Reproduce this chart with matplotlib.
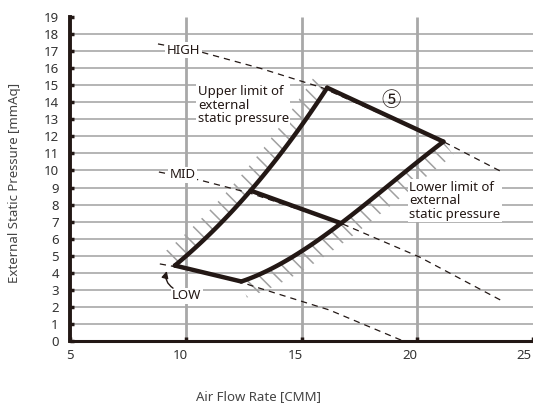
import numpy as np
import matplotlib
matplotlib.use("Agg")
import matplotlib.pyplot as plt
from matplotlib.patches import Polygon
from matplotlib.transforms import ScaledTranslation

plt.rcParams['font.family'] = ['Noto Sans', 'DejaVu Sans']
plt.rcParams['hatch.linewidth'] = 1.1
plt.rcParams['hatch.color'] = '#a0a0a0'

# ---- data ----
x_ticks = [5, 10, 15, 20, 25]
y_ticks = list(range(0, 20))
x_grid = [10, 15, 20]
y_grid = list(range(1, 19))

# upper limit curve (left boundary), from LOW point up to HIGH point
upper_x = [9.53, 10.53, 11.68, 12.80, 13.69, 14.41, 15.13, 15.70, 16.11]
upper_y = [4.36, 5.73, 7.20, 8.66, 10.22, 11.60, 12.96, 14.13, 14.72]
# lower limit curve (right boundary)
lower_x = [12.40, 13.55, 14.99, 16.71, 18.15, 19.58, 21.13]
lower_y = [3.48, 4.16, 5.24, 6.90, 8.46, 10.03, 11.69]
# MID operating line joins the two curves at these air flows
mid_join_x = [12.80, 16.71]

# fan curves (dashed)
high_x = [8.80, 10.65, 13.20, 15.90, 16.11, 21.13, 23.75]
high_y = [17.42, 16.95, 16.00, 14.85, 14.72, 11.69, 9.85]
mid_x = [8.84, 10.60, 12.80, 16.71, 20.09, 23.75]
mid_y = [9.91, 9.44, 8.66, 6.90, 4.93, 2.29]
low_x = [8.88, 9.53, 12.40, 12.76, 16.20, 19.50]
low_y = [4.52, 4.36, 3.48, 3.28, 1.82, -0.06]

W, H = 533, 405
fig = plt.figure(figsize=(W / 100, H / 100), dpi=100)
ax = fig.add_axes([70 / W, 1 - 341 / H, (533 - 70) / W, (341 - 17) / H])
ax.set_xlim(5, 25)
ax.set_ylim(0, 19)

grid_c = '#b4b4b4'
line_c = '#231815'

ax.hlines(y_grid, 5, 25, colors=grid_c, lw=1.4, zorder=1)
ax.vlines(x_grid, 0, 19, colors='#a8a8a8', lw=2.0, zorder=1)

def smooth(xs, ys):
    c = np.polyfit(xs, ys, 3)
    xx = np.linspace(xs[0], xs[-1], 80)
    return xx, np.polyval(c, xx), c

ux, uy, uc = smooth(upper_x, upper_y)
lx, ly, lc = smooth(lower_x, lower_y)

# hatched bands along the limit curves (offset in display space)
fig.canvas.draw()
def band(xs, ys, dist, side):
    pts = ax.transData.transform(np.column_stack([xs, ys]))
    d = np.gradient(pts, axis=0)
    d /= np.linalg.norm(d, axis=1)[:, None]
    if side == 'left':
        n = np.column_stack([-d[:, 1], d[:, 0]])
    else:
        n = np.column_stack([d[:, 1], -d[:, 0]])
    outer = pts + n * dist
    poly = np.vstack([pts, outer[::-1]])
    return ax.transData.inverted().transform(poly)

for xs, ys, side in [(ux, uy, 'left'), (lx, ly, 'right')]:
    p = Polygon(band(xs, ys, 17, side), closed=True, facecolor='none',
                edgecolor='#a0a0a0', lw=0, hatch='\\\\', zorder=2)
    ax.add_patch(p)

# dashed fan curves
for xs, ys in [(high_x, high_y), (mid_x, mid_y), (low_x, low_y)]:
    ax.plot(xs, ys, color='#231815', lw=0.9, ls=(0, (5, 4)), zorder=3)

# operating range polygon
lw = 3.2
kw = dict(color=line_c, lw=lw, zorder=5, solid_capstyle='round',
          solid_joinstyle='round')
ax.plot(ux, uy, **kw)
ax.plot(lx, ly, **kw)
ax.plot([ux[0], lx[0]], [uy[0], ly[0]], **kw)
ax.plot([ux[-1], lx[-1]], [uy[-1], ly[-1]], **kw)
ax.plot(mid_join_x, [np.polyval(uc, mid_join_x[0]), np.polyval(lc, mid_join_x[1])], **kw)

txt_c = '#231815'
bb = dict(facecolor='white', edgecolor='none', pad=1.0)
fs = 9.5
ax.text(9.9, 17.05, 'HIGH', fontsize=fs, color=txt_c, ha='center', va='center',
        bbox=bb, zorder=4)
ax.text(9.85, 9.75, 'MID', fontsize=fs, color=txt_c, ha='center', va='center',
        bbox=bb, zorder=4)
ax.text(10.05, 2.65, 'LOW', fontsize=fs, color=txt_c, ha='center', va='center',
        bbox=bb, zorder=4)
ax.annotate('', xy=(9.18, 4.1), xytext=(9.45, 3.1),
            arrowprops=dict(arrowstyle='-|>,head_length=0.4,head_width=0.2',
                            color=txt_c, lw=1.0, shrinkA=0, shrinkB=0,
                            connectionstyle='arc3,rad=-0.35'),
            zorder=6)
ax.text(10.52, 15.0, 'Upper limit of\nexternal\nstatic pressure', fontsize=fs,
        color=txt_c, ha='left', va='top', linespacing=1.05, bbox=bb, zorder=4)
ax.text(19.66, 9.4, 'Lower limit of\nexternal\nstatic pressure', fontsize=fs,
        color=txt_c, ha='left', va='top', linespacing=1.05, bbox=bb, zorder=4)
ax.text(18.88, 14.13, '⑤', fontsize=14, color=txt_c, ha='center', va='center',
        family=['Noto Sans CJK SC', 'DejaVu Sans'], zorder=4)

# axes styling
for s in ['top', 'right']:
    ax.spines[s].set_visible(False)
ax.spines['left'].set_linewidth(2.8)
ax.spines['bottom'].set_linewidth(2.2)
ax.spines['left'].set_color(line_c)
ax.spines['bottom'].set_color(line_c)
ax.set_xticks(x_ticks)
ax.set_yticks(y_ticks)
ax.tick_params(axis='both', direction='in', length=3, width=2.5, color=line_c,
               labelsize=fs, labelcolor='#333333')
ax.tick_params(axis='y', pad=8)
ax.tick_params(axis='x', pad=6)
label_shift_px = [0, -5, -6, -7, -9]
for lab, dx in zip(ax.get_xticklabels(), label_shift_px):
    lab.set_transform(lab.get_transform() + ScaledTranslation(dx / 100, 0, fig.dpi_scale_trans))

fig.text(258 / W, 1 - 397 / H, 'Air Flow Rate [CMM]', fontsize=fs, color='#444444',
         ha='center', va='center')
fig.text(15 / W, 1 - 183 / H, 'External Static Pressure [mmAq]', fontsize=fs,
         color='#444444', ha='center', va='center', rotation=90)

fig.savefig('out.png', dpi=100)
